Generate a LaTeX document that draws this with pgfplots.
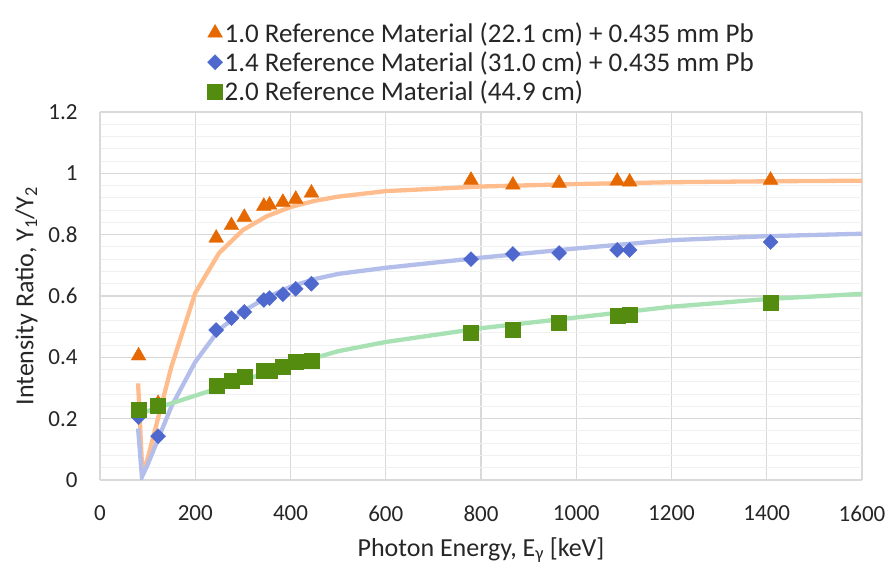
\documentclass[border=0pt]{standalone}
\usepackage{pgfplots}
\pgfplotsset{compat=1.18}
\usepackage{fontspec}
\setmainfont{Carlito}
\definecolor{ormk}{RGB}{230,104,0}
\definecolor{orln}{RGB}{255,188,140}
\definecolor{blmk}{RGB}{79,104,205}
\definecolor{blln}{RGB}{180,190,234}
\definecolor{grmk}{RGB}{84,140,16}
\definecolor{grln}{RGB}{168,226,180}
\definecolor{majgrid}{RGB}{217,217,217}
\definecolor{mingrid}{RGB}{240,240,240}
\begin{document}
\begin{tikzpicture}[x=1bp,y=1bp,font=\fontsize{23bp}{27bp}\selectfont]
\useasboundingbox (-100,-84) rectangle (796,480);
\begin{axis}[
  at={(0,0)}, anchor=south west,
  scale only axis, width=762bp, height=368bp,
  xmin=0, xmax=1600, ymin=0, ymax=1.2,
  xtick={0,200,...,1600},
  ytick={0,0.2,...,1.2},
  minor y tick num=4,
  grid=both,
  major grid style={majgrid, line width=1.1bp},
  minor grid style={mingrid, line width=1.1bp},
  major tick length=0pt, minor tick length=0pt,
  axis line style={majgrid, line width=1.1bp},
  axis x line*=bottom, axis y line*=left,
  /pgf/number format/1000 sep={},
  /pgf/number format/assume math mode=true,
  tick label style={font=\fontsize{23bp}{27bp}\selectfont, text=black!85},
  yticklabel style={xshift=-19bp},
  xticklabel style={yshift=-22bp},
  xlabel={Photon Energy, E\textsubscript{γ} [keV]},
  ylabel={Intensity Ratio, Y\textsubscript{1}/Y\textsubscript{2}},
  label style={font=\fontsize{26bp}{30bp}\selectfont, text=black!85},
  xlabel style={yshift=-9bp},
  ylabel style={yshift=4bp},
  legend style={at={(0.137,1.255)}, anchor=north west, draw=none, fill=none,
    font=\fontsize{27bp}{31bp}\selectfont, text=black!85, row sep=4bp},
  legend cell align=left,
]
\addplot[orln, line width=4.3bp, forget plot] coordinates {
(80,0.315)(89,0.02)(100,0.07)(150,0.37)(200,0.61)(250,0.74)(300,0.815)(350,0.86)(400,0.89)(450,0.91)(500,0.924)(600,0.942)(800,0.957)(1000,0.965)(1200,0.971)(1400,0.974)(1600,0.976)};
\addplot[blln, line width=4.3bp, forget plot] coordinates {
(80,0.168)(88,0.01)(100,0.05)(150,0.24)(200,0.385)(250,0.49)(300,0.55)(350,0.595)(400,0.63)(450,0.655)(500,0.672)(600,0.692)(800,0.725)(1000,0.755)(1200,0.782)(1400,0.795)(1600,0.803)};
\addplot[grln, line width=4.3bp, forget plot] coordinates {
(80,0.21)(100,0.225)(150,0.25)(200,0.275)(250,0.30)(300,0.325)(400,0.375)(500,0.42)(600,0.45)(800,0.495)(1000,0.53)(1200,0.565)(1400,0.59)(1600,0.607)};
\addplot[only marks, mark=triangle*, mark size=8.5bp, color=ormk, mark options={fill=ormk, draw=ormk}] coordinates {
(81,0.405)(122,0.25)(244,0.789)(276,0.83)(303,0.857)(344,0.893)(356,0.897)(384,0.906)(411,0.916)(444,0.936)(779,0.978)(867,0.962)(964,0.968)(1086,0.975)(1112,0.972)(1408,0.978)};
\addlegendentry{1.0 Reference Material (22.1 cm) + 0.435 mm Pb}
\addplot[only marks, mark=square*, mark size=5.3bp, color=blmk, mark options={fill=blmk, draw=blmk, rotate=45}] coordinates {
(81,0.205)(122,0.143)(244,0.489)(276,0.528)(303,0.548)(344,0.587)(356,0.593)(384,0.606)(411,0.623)(444,0.64)(779,0.72)(867,0.737)(964,0.74)(1086,0.75)(1112,0.75)(1408,0.776)};
\addlegendentry{1.4 Reference Material (31.0 cm) + 0.435 mm Pb}
\addplot[only marks, mark=square*, mark size=7.5bp, color=grmk, mark options={fill=grmk, draw=grmk}] coordinates {
(81,0.228)(122,0.241)(244,0.306)(276,0.323)(303,0.336)(344,0.355)(356,0.358)(384,0.368)(411,0.385)(444,0.39)(779,0.479)(867,0.489)(964,0.512)(1086,0.535)(1112,0.538)(1408,0.577)};
\addlegendentry{2.0 Reference Material (44.9 cm)}
\end{axis}
\end{tikzpicture}
\end{document}
